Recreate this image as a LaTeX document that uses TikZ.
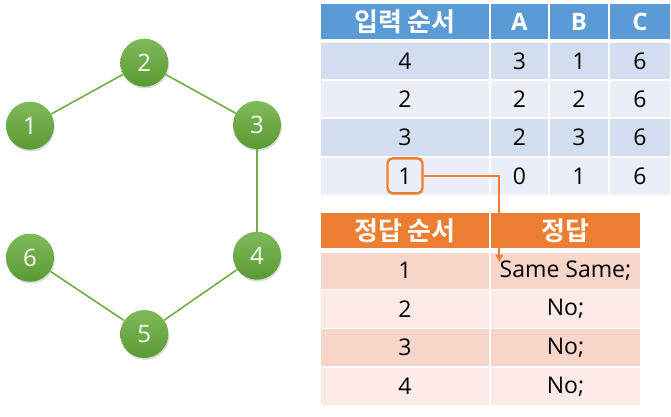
\documentclass[tikz,border=0pt]{standalone}
\usepackage{fontspec}
\setmainfont{Open Sans}
\newfontfamily\kr[BoldFont={Noto Sans CJK KR Bold}]{Noto Sans CJK KR}
\usetikzlibrary{shadows,arrows.meta}
\definecolor{gnode}{HTML}{70AD47}
\definecolor{gtop}{HTML}{7FBA5A}
\definecolor{gbot}{HTML}{5A9A32}
\definecolor{bhead}{HTML}{5B9BD5}
\definecolor{brow1}{HTML}{D2DEEF}
\definecolor{brow2}{HTML}{EAEFF7}
\definecolor{ohead}{HTML}{ED7D31}
\definecolor{orow1}{HTML}{F8D5C9}
\definecolor{orow2}{HTML}{FBEAE5}
\tikzset{
  gcircle/.style={circle, minimum size=48pt, inner sep=0pt, top color=gtop, bottom color=gbot,
     draw=none, text=white, font=\fontsize{24}{26}\selectfont,
     drop shadow={opacity=0.3, shadow xshift=0.8pt, shadow yshift=-1.8pt}},
  gedge/.style={draw=gnode, line width=1.6pt},
  cell/.style={rectangle, anchor=north west, inner sep=0pt, outer sep=0pt, draw=white, line width=1.3pt,
     font=\fontsize{23}{26}\selectfont},
  hcell/.style={cell, text=white, font=\fontsize{24}{26}\selectfont\bfseries},
  krhead/.style={font=\kr\fontsize{26}{28}\selectfont\bfseries},
  hlbox/.style={draw=ohead, line width=2.4pt, rounded corners=5pt, minimum width=35pt, minimum height=35pt, inner sep=0pt},
  conn/.style={draw=ohead, line width=1.7pt, -{Triangle[length=7pt,width=7pt]}},
}
\newcommand{\cellnode}[7]{%
  \node[#6, minimum width=#4pt, minimum height=#5pt] (#1) at (#2,#3) {#7};}
\begin{document}
\begin{tikzpicture}[x=1pt,y=-1pt]
\useasboundingbox (0,0) rectangle (671,417);
% graph
\node[gcircle] (n1) at (30,125.7) {1};
\node[gcircle] (n2) at (144.3,62.7) {2};
\node[gcircle] (n3) at (257,125) {3};
\node[gcircle] (n4) at (257,255.7) {4};
\node[gcircle] (n5) at (144.3,334) {5};
\node[gcircle] (n6) at (30,257.7) {6};
\draw[gedge] (n1) -- (n2);
\draw[gedge] (n2) -- (n3);
\draw[gedge] (n3) -- (n4);
\draw[gedge] (n4) -- (n5);
\draw[gedge] (n5) -- (n6);
% top table
\cellnode{th1}{320}{3}{170}{37}{hcell, krhead, fill=bhead}{입력 순서}
\cellnode{th2}{490}{3}{59}{37}{hcell, fill=bhead}{A}
\cellnode{th3}{549}{3}{60}{37}{hcell, fill=bhead}{B}
\cellnode{th4}{609}{3}{62}{37}{hcell, fill=bhead}{C}
% rows
\cellnode{t11}{320}{42}{170}{38}{cell, fill=brow1}{4}
\cellnode{t12}{490}{42}{59}{38}{cell, fill=brow1}{3}
\cellnode{t13}{549}{42}{60}{38}{cell, fill=brow1}{1}
\cellnode{t14}{609}{42}{62}{38}{cell, fill=brow1}{6}
\cellnode{t21}{320}{80}{170}{38}{cell, fill=brow2}{2}
\cellnode{t22}{490}{80}{59}{38}{cell, fill=brow2}{2}
\cellnode{t23}{549}{80}{60}{38}{cell, fill=brow2}{2}
\cellnode{t24}{609}{80}{62}{38}{cell, fill=brow2}{6}
\cellnode{t31}{320}{118}{170}{39}{cell, fill=brow1}{3}
\cellnode{t32}{490}{118}{59}{39}{cell, fill=brow1}{2}
\cellnode{t33}{549}{118}{60}{39}{cell, fill=brow1}{3}
\cellnode{t34}{609}{118}{62}{39}{cell, fill=brow1}{6}
\cellnode{t41}{320}{157}{170}{39}{cell, fill=brow2}{}
\cellnode{t42}{490}{157}{59}{39}{cell, fill=brow2}{0}
\cellnode{t43}{549}{157}{60}{39}{cell, fill=brow2}{1}
\cellnode{t44}{609}{157}{62}{39}{cell, fill=brow2}{6}
\node[hlbox, font=\fontsize{23}{26}\selectfont] (hl) at (405,175.8) {1};
% bottom table
\cellnode{bh1}{320}{212.7}{170}{36.3}{hcell, krhead, fill=ohead}{정답 순서}
\cellnode{bh2}{490}{212.7}{151}{36.3}{hcell, krhead, fill=ohead}{정답}
\cellnode{b11}{320}{252}{170}{37.5}{cell, fill=orow1}{1}
\cellnode{b12}{490}{252}{151}{37.5}{cell, fill=orow1}{Same Same;}
\cellnode{b21}{320}{289.5}{170}{39}{cell, fill=orow2}{2}
\cellnode{b22}{490}{289.5}{151}{39}{cell, fill=orow2}{No;}
\cellnode{b31}{320}{328.5}{170}{38.5}{cell, fill=orow1}{3}
\cellnode{b32}{490}{328.5}{151}{38.5}{cell, fill=orow1}{No;}
\cellnode{b41}{320}{367}{170}{39}{cell, fill=orow2}{4}
\cellnode{b42}{490}{367}{151}{39}{cell, fill=orow2}{No;}
% connector
\coordinate (tip) at (499.3,262);
\draw[conn] (hl.east) -| (tip);
\end{tikzpicture}
\end{document}
